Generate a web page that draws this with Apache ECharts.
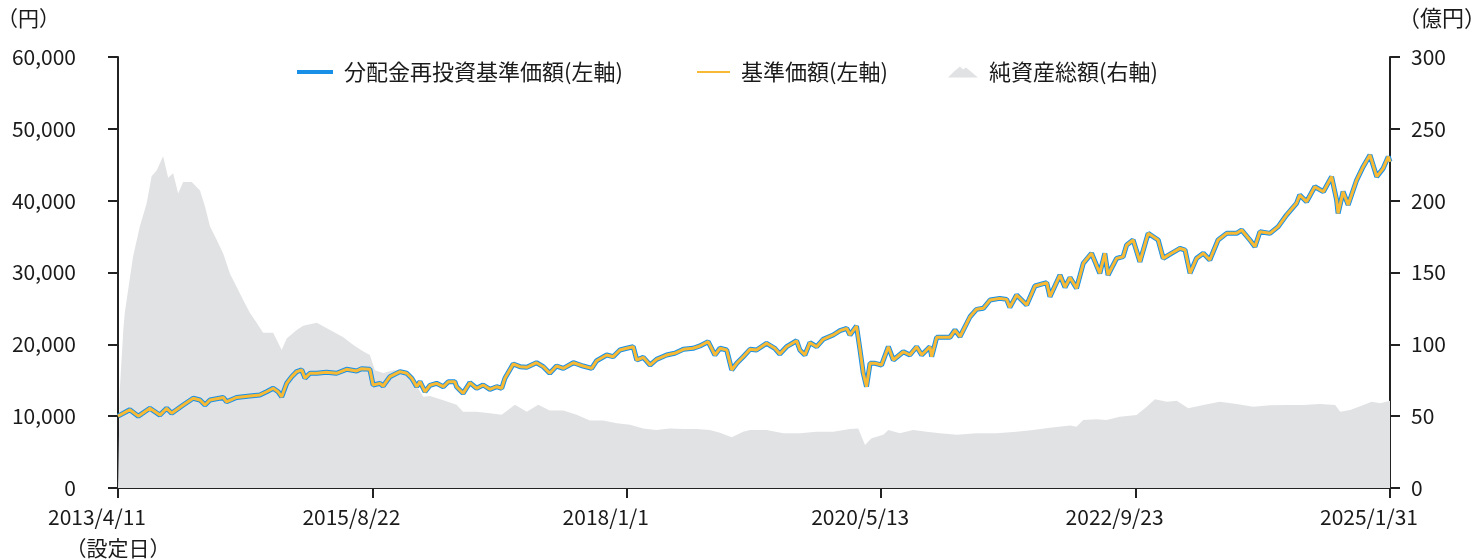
<!DOCTYPE html>
<html>
<head>
<meta charset="utf-8">
<script src="https://cdn.jsdelivr.net/npm/echarts@6/dist/echarts.min.js"></script>
<style>
html,body{margin:0;padding:0;background:#fff;}
#chart{width:1472px;height:559px;}
</style>
</head>
<body>
<div id="chart"></div>
<script>
// ---- data ----
const xTickLabels = ['2013/4/11', '2015/8/22', '2018/1/1', '2020/5/13', '2022/9/23', '2025/1/31'];
const firstTickNote = '（設定日）';
const seriesNames = ['分配金再投資基準価額(左軸)', '基準価額(左軸)', '純資産総額(右軸)'];

// 基準価額 (no distributions paid, so the reinvested NAV equals the NAV)
const priceDates = [
 '2013/4/11','2013/5/21','2013/6/19','2013/7/28','2013/8/31','2013/9/23','2013/10/10','2013/11/18','2013/12/22',
 '2014/1/14','2014/1/31','2014/2/17','2014/4/3','2014/4/14','2014/5/18','2014/7/2','2014/8/5','2014/8/28','2014/9/19',
 '2014/10/6','2014/10/18','2014/11/4','2014/11/21','2014/12/8','2014/12/25',
 '2015/1/5','2015/1/22','2015/2/14','2015/3/19','2015/4/22','2015/5/26','2015/6/29','2015/7/16','2015/8/13','2015/8/24',
 '2015/9/16','2015/9/27','2015/10/20','2015/11/23','2015/12/16',
 '2016/1/2','2016/1/19','2016/1/30','2016/2/16','2016/3/4','2016/3/26','2016/4/18','2016/5/5','2016/5/27','2016/6/2',
 '2016/6/24','2016/7/17','2016/8/9','2016/8/31','2016/9/23','2016/10/16','2016/11/2','2016/11/13','2016/12/11',
 '2017/1/3','2017/1/26','2017/2/28','2017/3/23','2017/4/14','2017/5/7','2017/5/30','2017/7/3','2017/8/5','2017/9/3',
 '2017/9/20','2017/10/24','2017/11/15','2017/12/8','2017/12/31',
 '2018/1/22','2018/2/3','2018/2/25','2018/3/20','2018/4/11','2018/5/15','2018/6/12','2018/7/11','2018/8/13','2018/9/5',
 '2018/10/3','2018/10/26','2018/11/12','2018/12/5','2018/12/22',
 '2019/1/8','2019/1/30','2019/2/22','2019/3/16','2019/4/19','2019/5/17','2019/6/3','2019/6/26','2019/7/30','2019/8/10',
 '2019/8/27','2019/9/13','2019/10/6','2019/10/28','2019/12/1','2019/12/24',
 '2020/1/16','2020/1/27','2020/2/18','2020/3/1','2020/3/12','2020/3/23','2020/4/4','2020/4/21','2020/5/13','2020/6/5',
 '2020/6/22','2020/7/26','2020/8/17','2020/9/9','2020/9/26','2020/10/24','2020/10/30','2020/11/16','2020/12/31',
 '2021/1/17','2021/2/3','2021/3/9','2021/3/31','2021/4/23','2021/5/16','2021/6/18','2021/7/11','2021/7/22','2021/8/14',
 '2021/9/17','2021/10/15','2021/11/24','2021/12/5',
 '2022/1/8','2022/1/25','2022/2/11','2022/3/5','2022/3/28','2022/4/25','2022/5/23','2022/6/9','2022/6/20','2022/7/19',
 '2022/8/10','2022/8/22','2022/9/13','2022/10/6','2022/11/3','2022/12/7','2022/12/24',
 '2023/1/21','2023/2/19','2023/3/8','2023/3/25','2023/4/16','2023/5/9','2023/5/31','2023/6/28','2023/7/27','2023/8/30',
 '2023/9/16','2023/10/14','2023/10/31','2023/11/17','2023/12/21',
 '2024/1/18','2024/2/15','2024/3/20','2024/3/31','2024/4/23','2024/5/21','2024/6/19','2024/7/17','2024/8/3','2024/8/8',
 '2024/8/25','2024/9/11','2024/10/10','2024/11/1','2024/11/24','2024/12/17',
 '2025/1/8','2025/1/25','2025/1/31'
];
const navValues = [
 10000,10900,10000,11100,10150,11100,10400,11550,12500,
 12250,11550,12250,12600,12000,12600,12800,12950,13400,13880,
 13400,12700,14570,15500,16200,16430,
 15300,15970,15970,16100,15970,16520,16290,16610,16520,14340,
 14570,14200,15500,16200,15970,
 15270,14100,14800,13400,14300,14570,14100,14800,14800,14100,
 13180,14660,13880,14340,13740,14100,13880,15270,17260,
 16890,16800,17440,16890,15970,16980,16660,17440,16980,16660,
 17720,18510,18280,19210,19450,
 19670,17820,18190,17120,17910,18510,18750,19310,19450,19770,
 20370,18510,19450,19210,16430,
 17360,18280,19300,19210,20140,19450,18650,19670,20500,19210,
 18510,20230,19670,20700,21300,21900,
 22230,21300,22550,19210,15970,14100,17360,17360,17120,19670,
 17820,18970,18510,19670,18510,19670,18280,20980,20980,
 21990,21060,23840,24870,25010,26170,26400,26260,25150,26860,
 25470,28120,28580,26630,
 29650,27940,29300,27800,31280,32670,29890,32670,29650,31970,
 32200,33830,34520,31500,35450,34520,31970,
 32670,33360,33130,29890,31970,32670,31740,34520,35450,35450,
 35910,34520,33590,35680,35450,
 36380,38000,39630,40790,39860,41940,41250,43340,40090,38230,
 41250,39400,42870,44730,46350,43340,
 44500,46120,45420
];

// 純資産総額 (億円)
const assetDates = [
 '2013/4/11','2013/4/12','2013/4/17','2013/4/29','2013/5/4','2013/6/1','2013/6/24','2013/7/17','2013/8/3','2013/8/20',
 '2013/9/11','2013/9/28','2013/10/15','2013/11/1','2013/11/18','2013/12/17',
 '2014/1/14','2014/1/31','2014/2/17','2014/3/11','2014/4/3','2014/4/26','2014/5/18','2014/6/9','2014/7/2','2014/7/25',
 '2014/8/16','2014/9/19','2014/10/18','2014/11/4','2014/12/8','2014/12/30',
 '2015/2/14','2015/3/31','2015/5/15','2015/6/18','2015/7/22','2015/8/13','2015/8/30','2015/9/27','2015/10/31','2015/12/4',
 '2016/1/7','2016/2/10','2016/3/4','2016/4/18','2016/6/2','2016/6/24','2016/8/9','2016/9/23','2016/11/2','2016/12/17',
 '2017/1/26','2017/3/6','2017/4/14','2017/5/30','2017/7/14','2017/8/28','2017/10/12','2017/11/27',
 '2018/1/11','2018/2/25','2018/4/11','2018/5/26','2018/7/11','2018/8/25','2018/10/9','2018/11/12','2018/12/22',
 '2019/1/30','2019/2/22','2019/4/19','2019/6/15','2019/8/10','2019/10/6','2019/12/1',
 '2020/1/27','2020/2/24','2020/3/18','2020/4/9','2020/5/19','2020/6/5','2020/7/14','2020/8/28','2020/10/13','2020/11/27',
 '2021/1/23','2021/3/31','2021/6/7','2021/8/14','2021/10/9','2021/12/5',
 '2022/2/11','2022/3/5','2022/3/28','2022/5/12','2022/6/15','2022/7/30','2022/9/25','2022/10/29','2022/11/26',
 '2023/1/5','2023/2/8','2023/3/19','2023/5/9','2023/7/4','2023/8/30','2023/10/25','2023/12/21',
 '2024/2/15','2024/4/12','2024/6/8','2024/7/29','2024/8/15','2024/9/18','2024/11/2','2024/11/30','2024/12/29',
 '2025/1/31'
];
const assetValues = [
 0,8,68,110,122,161,182,198,217,221,
 231,216,219,205,213,213,
 207,196,182,173,163,149,140,131,122,115,
 108,108,96,104,110,113,
 115,110,105,99.5,95,92.6,82,80,82,82,
 75,63.5,64,61,58,53,53,52,51,58,
 53,58,54,54,51,47,47,45,
 44,41.5,40.4,41.5,41,41,40.4,38.5,35.3,
 39.2,40.4,40.4,38.1,38.1,39.2,39.2,
 41,41.5,30,34.6,37,40.4,38.1,40.4,39.2,38.1,
 37,38.1,38.1,39.2,40.4,42,
 43.5,42.7,47.3,47.8,47.3,49.6,50.8,56.6,61.7,
 60.1,60.8,55.5,57.8,60.1,58.5,56.6,57.6,
 57.8,57.8,58.5,57.8,53.1,54.3,57.8,60.1,59,
 60.8
];

// ---- helpers ----
function ts(s) { const p = s.split('/').map(Number); return Date.UTC(p[0], p[1] - 1, p[2]); }
const xMin = ts(xTickLabels[0]);
const xMax = ts(xTickLabels[xTickLabels.length - 1]);
const xInterval = (xMax - xMin) / (xTickLabels.length - 1);
const priceData = priceDates.map((d, i) => [ts(d), navValues[i]]);
const assetData = assetDates.map((d, i) => [ts(d), assetValues[i]]);

const FONT = '"Noto Sans CJK JP", "Noto Sans", sans-serif';
const TXT = '#1a1a1a';
const AX = '#222';
const BLUE = '#1890e8';
const YELLOW = '#f8b935';
const GRAY = '#e1e2e4';

const chart = echarts.init(document.getElementById('chart'), null, { renderer: 'canvas' });
const legendText = { fontSize: 22, color: TXT, fontFamily: FONT, padding: [0, 0, 0, 6] };

chart.setOption({
  animation: false,
  backgroundColor: '#fff',
  textStyle: { fontFamily: FONT, color: TXT },
  grid: { left: 118, right: 82, top: 57, bottom: 71, containLabel: false, outerBoundsMode: 'none' },
  legend: [
    { data: [{ name: seriesNames[0], icon: 'rect' }], left: 292, top: 56, itemWidth: 36, itemHeight: 4,
      textStyle: legendText },
    { data: [{ name: seriesNames[1], icon: 'rect' }], left: 692, top: 56, itemWidth: 33, itemHeight: 2,
      textStyle: legendText },
    { data: [{ name: seriesNames[2], icon: 'path://M0,12 L6,6 L12,1 L15,4 L18,2 L30,12 Z' }],
      left: 943, top: 56, itemWidth: 30, itemHeight: 12, textStyle: legendText }
  ],
  xAxis: {
    type: 'value',
    min: xMin, max: xMax, interval: xInterval,
    splitLine: { show: false },
    axisLine: { show: true, lineStyle: { color: AX, width: 2 } },
    axisTick: { show: true, length: 10, lineStyle: { color: AX, width: 2 } },
    axisLabel: {
      margin: 15,
      color: TXT,
      fontFamily: FONT,
      fontSize: 20,
      showMinLabel: true, showMaxLabel: true,
      formatter: function (v) {
        const i = Math.round((v - xMin) / xInterval);
        const lab = xTickLabels[i] || '';
        return i === 0 ? '{d|' + lab + '}\n{s|' + firstTickNote + '}' : '{d|' + lab + '}';
      },
      rich: {
        d: { fontSize: 21, fontFamily: FONT, color: TXT, padding: [0, 42, 0, 0], lineHeight: 28 },
        s: { fontSize: 21, fontFamily: FONT, color: TXT, lineHeight: 34, align: 'center' }
      }
    }
  },
  yAxis: [
    {
      type: 'value', min: 0, max: 60000, interval: 10000,
      name: '（円）', nameLocation: 'end', nameGap: 28,
      nameTextStyle: { fontSize: 21, color: TXT, fontFamily: FONT, align: 'right', padding: [0, 58, 0, 0] },
      splitLine: { show: false },
      axisLine: { show: true, lineStyle: { color: AX, width: 2 } },
      axisTick: { show: true, length: 10, lineStyle: { color: AX, width: 2 } },
      axisLabel: {
        margin: 42, color: TXT, fontFamily: FONT, fontSize: 21,
        formatter: v => v.toLocaleString('en-US')
      }
    },
    {
      type: 'value', min: 0, max: 300, interval: 50, position: 'right',
      name: '（億円）', nameLocation: 'end', nameGap: 28,
      nameTextStyle: { fontSize: 22, color: TXT, fontFamily: FONT, align: 'left', padding: [0, 0, 0, 8] },
      splitLine: { show: false },
      axisLine: { show: true, lineStyle: { color: AX, width: 2 } },
      axisTick: { show: true, length: 10, lineStyle: { color: AX, width: 2 } },
      axisLabel: { margin: 21, color: TXT, fontFamily: FONT, fontSize: 21 }
    }
  ],
  series: [
    {
      name: seriesNames[2], type: 'line', yAxisIndex: 1, data: assetData,
      symbol: 'none', silent: true, z: 1,
      lineStyle: { width: 0, color: GRAY }, itemStyle: { color: GRAY },
      areaStyle: { color: GRAY, opacity: 1 }
    },
    {
      name: seriesNames[0], type: 'line', yAxisIndex: 0, data: priceData,
      symbol: 'none', z: 3,
      lineStyle: { width: 5, color: BLUE }, itemStyle: { color: BLUE }
    },
    {
      name: seriesNames[1], type: 'line', yAxisIndex: 0, data: priceData,
      symbol: 'none', z: 4,
      lineStyle: { width: 3, color: YELLOW }, itemStyle: { color: YELLOW }
    }
  ]
});
</script>
</body>
</html>
